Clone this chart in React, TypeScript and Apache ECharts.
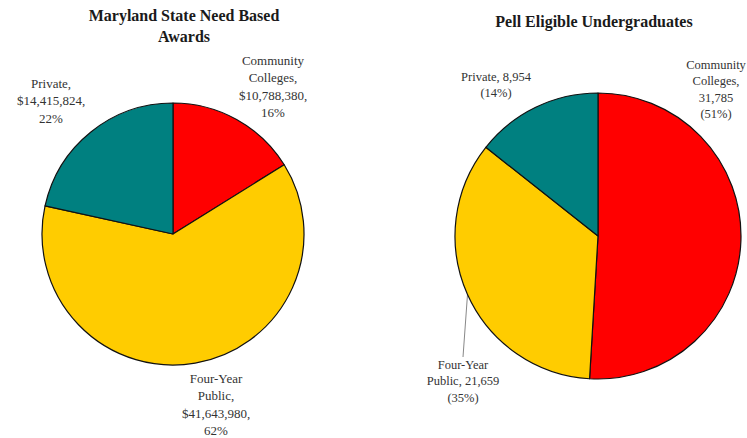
import React, { useEffect, useRef } from "react";
import * as echarts from "echarts";

const categories = ["Community Colleges", "Four-Year Public", "Private"];
const awardsValues = [10788380, 41643980, 14415824];
const pellValues = [31785, 21659, 8954];
const colors = ["#FF0000", "#FFCC00", "#008080"];
const awardsLabelNames = ["Community\nColleges,", "Four-Year\nPublic,", "Private,"];
const pellLabelNames = ["Community\nColleges,\n", "Four-Year\nPublic, ", "Private, "];
const titles = ["Maryland State Need Based\nAwards", "Pell Eligible Undergraduates"];

const awardsLabelPos = [
  [273, 52],
  [216, 370],
  [51, 75],
];
const pellLabelPos = [
  [716, 57],
  [463, 357],
  [496, 69],
];

const FONT = "'Liberation Serif', 'Times New Roman', serif";

export default function App() {
  const ref = useRef<HTMLDivElement>(null);
  useEffect(() => {
    if (!ref.current) return;
    const chart = echarts.init(ref.current, undefined, { renderer: "svg" });
    const fmt = (v: number) => v.toLocaleString("en-US");
    chart.setOption({
      animation: false,
      backgroundColor: "#ffffff",
      graphic: [
        {
          type: "text",
          x: 184,
          y: 5,
          style: {
            text: titles[0],
            font: `bold 16px ${FONT}`,
            fill: "#1a1a1a",
            align: "center",
            verticalAlign: "top",
            lineHeight: 21,
          },
        },
        {
          type: "text",
          x: 594,
          y: 11,
          style: {
            text: titles[1],
            font: `bold 16px ${FONT}`,
            fill: "#1a1a1a",
            align: "center",
            verticalAlign: "top",
            lineHeight: 21,
          },
        },
      ],
      series: [
        {
          type: "pie",
          center: [173, 234],
          radius: 131,
          startAngle: 90,
          clockwise: true,
          silent: true,
          bleedMargin: 0,
          itemStyle: { borderColor: "#111", borderWidth: 1.2 },
          label: {
            show: true,
            position: "outside",
            overflow: "none",
            fontFamily: FONT,
            fontSize: 13,
            lineHeight: 17.3,
            color: "#333",
            align: "center",
            formatter: (p: any) =>
              `${awardsLabelNames[p.dataIndex]}\n$${fmt(p.value)},\n${Math.round(p.percent)}%`,
          },
          labelLine: { show: false },
          labelLayout: (p: any) => ({
            x: awardsLabelPos[p.dataIndex][0],
            y: awardsLabelPos[p.dataIndex][1],
            align: "center",
            verticalAlign: "top",
          }),
          data: categories.map((c, i) => ({
            name: c,
            value: awardsValues[i],
            itemStyle: { color: colors[i] },
          })),
        },
        {
          type: "pie",
          center: [598, 236],
          radius: 143,
          startAngle: 90,
          clockwise: true,
          silent: true,
          bleedMargin: 0,
          itemStyle: { borderColor: "#111", borderWidth: 1.2 },
          label: {
            show: true,
            position: "outside",
            overflow: "none",
            fontFamily: FONT,
            fontSize: 12.5,
            lineHeight: 16.3,
            color: "#333",
            align: "center",
            formatter: (p: any) =>
              `${pellLabelNames[p.dataIndex]}${fmt(p.value)}\n(${Math.round(p.percent)}%)`,
          },
          labelLine: { show: false },
          labelLayout: (p: any) => ({
            x: pellLabelPos[p.dataIndex][0],
            y: pellLabelPos[p.dataIndex][1],
            align: "center",
            verticalAlign: "top",
          }),
          data: categories.map((c, i) => ({
            name: c,
            value: pellValues[i],
            itemStyle: { color: colors[i] },
            labelLine:
              i === 1
                ? { show: true, length: 10, length2: 0, lineStyle: { color: "#888", width: 1 } }
                : { show: false },
          })),
        },
      ],
    });
    return () => chart.dispose();
  }, []);
  return (
    <div
      ref={ref}
      style={{ position: "fixed", left: 0, top: 0, width: 747, height: 438 }}
    />
  );
}
